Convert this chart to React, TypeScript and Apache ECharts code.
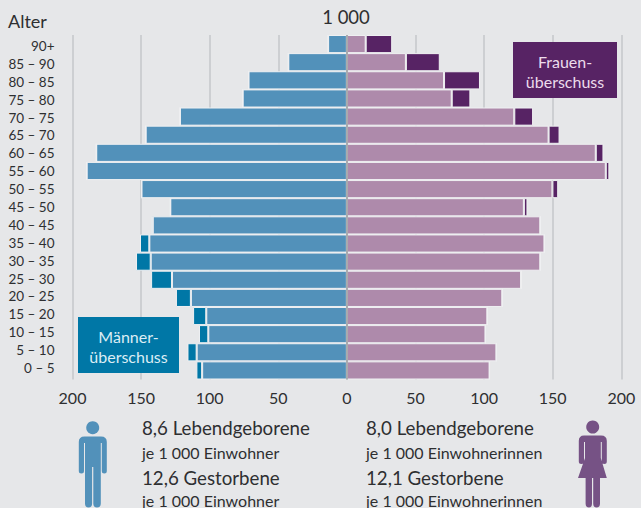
import React, { useEffect, useRef } from "react";
import * as echarts from "echarts";

const ageGroups = ["90+","85 – 90","80 – 85","75 – 80","70 – 75","65 – 70","60 – 65","55 – 60","50 – 55","45 – 50","40 – 45","35 – 40","30 – 35","25 – 30","20 – 25","15 – 20","10 – 15","5 – 10","0 – 5"];
// The chart rows run top to bottom
const menCommon = [13.7,42.7,71.7,76,121.7,146.7,182.7,189.7,149.7,128.7,141.5,144,143,127.5,113.7,102.5,101,109.5,105.5];
const menSurplus = [0,0,0,0,0,0,0,0,0,0,1,6.8,10.7,15.2,10.9,9.6,6.8,6.7,4.2];
const womenCommon = [13.7,43,70.8,76.4,122,147,181.4,188.7,149.8,129,141,144,141,127,113.3,102.4,101,109,104];
const womenSurplus = [19.3,24.7,26.2,13.6,13.7,8,5.6,2.6,4.2,2.6,0,0,0,0,0,0,0,0,0];
const valueTicks = [-200,-150,-100,-50,0,50,100,150,200];

const BG = "#e6e7e9";
const MEN = "#5291ba";
const MEN_S = "#0077a6";
const WOMEN = "#ae8aab";
const WOMEN_S = "#572364";
const GAP = "#eff0f2";
const FONT = "Lato, sans-serif";
const INK = "#2e2f31";

const manBody = "M84.5 436.5 H101 Q106.8 436.5 106.8 442 V471 Q106.8 473.5 104.3 473.5 Q101.8 473.5 101.8 471 V443 H100.8 V503.5 Q100.8 507.5 97 507.5 Q93.3 507.5 93.3 503.5 V467 H92.1 V503.5 Q92.1 507.5 88.5 507.5 Q85 507.5 85 503.5 V443 H84 V471 Q84 473.5 81.4 473.5 Q78.8 473.5 78.8 471 V442 Q78.8 436.5 84.5 436.5 Z";
const womanBody = "M584 435.5 H601 Q606.8 435.5 606.8 441 V461.5 Q606.8 464 604.3 464 Q601.8 464 601.8 461.5 V442 H600.8 V458 L606.8 478 H600 V503.5 Q600 507.5 596.5 507.5 Q593.2 507.5 593.2 503.5 V478 H592 V503.5 Q592 507.5 589 507.5 Q585.6 507.5 585.6 503.5 V478 H578 L585 458 V442 H584 V461.5 Q584 464 581.4 464 Q578.8 464 578.8 461.5 V441 Q578.8 435.5 584 435.5 Z";
echarts.graphic.registerShape("manBody", echarts.graphic.extendPath(manBody, {}));
echarts.graphic.registerShape("womanBody", echarts.graphic.extendPath(womanBody, {}));

const txt = (x: number, y: number, text: string, fontSize: number, fill = INK, align = "left") => ({
  type: "text", x, y,
  style: { text, fontSize, fill, fontFamily: FONT, align, verticalAlign: "middle" },
});

export default function App() {
  const ref = useRef<HTMLDivElement>(null);
  useEffect(() => {
    document.body.style.margin = "0";
    document.body.style.background = BG;
    const chart = echarts.init(ref.current!, undefined, { renderer: "svg" });
    const bar = (name: string, data: number[], color: string, sign: number, mark = false) => ({
      name, type: "bar", stack: "pyramid", xAxisIndex: 0, yAxisIndex: 0,
      data: data.map((v) => v * sign),
      barWidth: "100%",
      itemStyle: { color, borderColor: GAP, borderWidth: 1 },
      silent: true,
      ...(mark ? {
        markLine: {
          silent: true, symbol: "none", label: { show: false },
          lineStyle: { color: "#a9abae", width: 2, type: "solid" },
          data: [{ xAxis: 0 }],
        },
      } : {}),
    });
    chart.setOption({
      animation: false,
      backgroundColor: BG,
      grid: [
        { left: 72.5, right: 19.7, top: 35, height: 344.5 },
        { left: 72.5, right: 19.7, top: 37, height: 340 },
      ],
      xAxis: [
        {
          type: "value", min: -200, max: 200, interval: 50, gridIndex: 0,
          axisLine: { show: false }, axisTick: { show: false },
          splitLine: { lineStyle: { color: "#c5c7ca", width: 1.5 } },
          axisLabel: {
            margin: 10, fontSize: 16, color: INK, fontFamily: FONT,
            formatter: (v: number) => (valueTicks.includes(v) ? String(Math.abs(v)) : ""),
          },
        },
        { type: "value", min: -200, max: 200, gridIndex: 1, show: false },
      ],
      yAxis: [
        {
          type: "category", data: ageGroups, inverse: true, gridIndex: 0,
          axisLine: { show: false, onZero: false }, axisTick: { show: false }, splitLine: { show: false },
          axisLabel: { show: false },
        },
        {
          type: "category", data: ageGroups, inverse: true, gridIndex: 1,
          axisLine: { show: false, onZero: false }, axisTick: { show: false }, splitLine: { show: false },
          axisLabel: { margin: 18, fontSize: 13.5, color: INK, fontFamily: FONT, interval: 0 },
        },
      ],
      series: [
        bar("Männer", menCommon, MEN, -1),
        bar("Männerüberschuss", menSurplus, MEN_S, -1),
        bar("Frauen", womenCommon, WOMEN, 1, true),
        bar("Frauenüberschuss", womenSurplus, WOMEN_S, 1),
      ],
      graphic: [
        txt(8, 21, "Alter", 18),
        txt(346, 17, "1 000", 18.5, INK, "center"),
        { type: "rect", shape: { x: 513, y: 42, width: 104, height: 56 }, style: { fill: WOMEN_S }, z: 10 },
        { ...txt(565, 61, "Frauen-", 16, "#ecdcec", "center"), z: 11 },
        { ...txt(565, 81, "überschuss", 16, "#ecdcec", "center"), z: 11 },
        { type: "rect", shape: { x: 78, y: 317, width: 101, height: 56 }, style: { fill: MEN_S }, z: 10 },
        { ...txt(128.5, 336, "Männer-", 16, "#dcedf5", "center"), z: 11 },
        { ...txt(128.5, 356, "überschuss", 16, "#dcedf5", "center"), z: 11 },
        txt(142, 428, "8,6 Lebendgeborene", 18.7),
        txt(142, 452, "je 1 000 Einwohner", 16),
        txt(142, 478, "12,6 Gestorbene", 18.7),
        txt(142, 500, "je 1 000 Einwohner", 16),
        txt(366, 428, "8,0 Lebendgeborene", 18.7),
        txt(366, 452, "je 1 000 Einwohnerinnen", 16),
        txt(366, 478, "12,1 Gestorbene", 18.7),
        txt(366, 500, "je 1 000 Einwohnerinnen", 16),
        { type: "circle", shape: { cx: 92.7, cy: 427.7, r: 6.5 }, style: { fill: MEN } },
        { type: "manBody", style: { fill: MEN } },
        { type: "circle", shape: { cx: 592.7, cy: 427, r: 6.5 }, style: { fill: "#765285" } },
        { type: "womanBody", style: { fill: "#765285" } },
      ],
    });
    return () => chart.dispose();
  }, []);
  return <div ref={ref} style={{ width: 641, height: 508 }} />;
}
